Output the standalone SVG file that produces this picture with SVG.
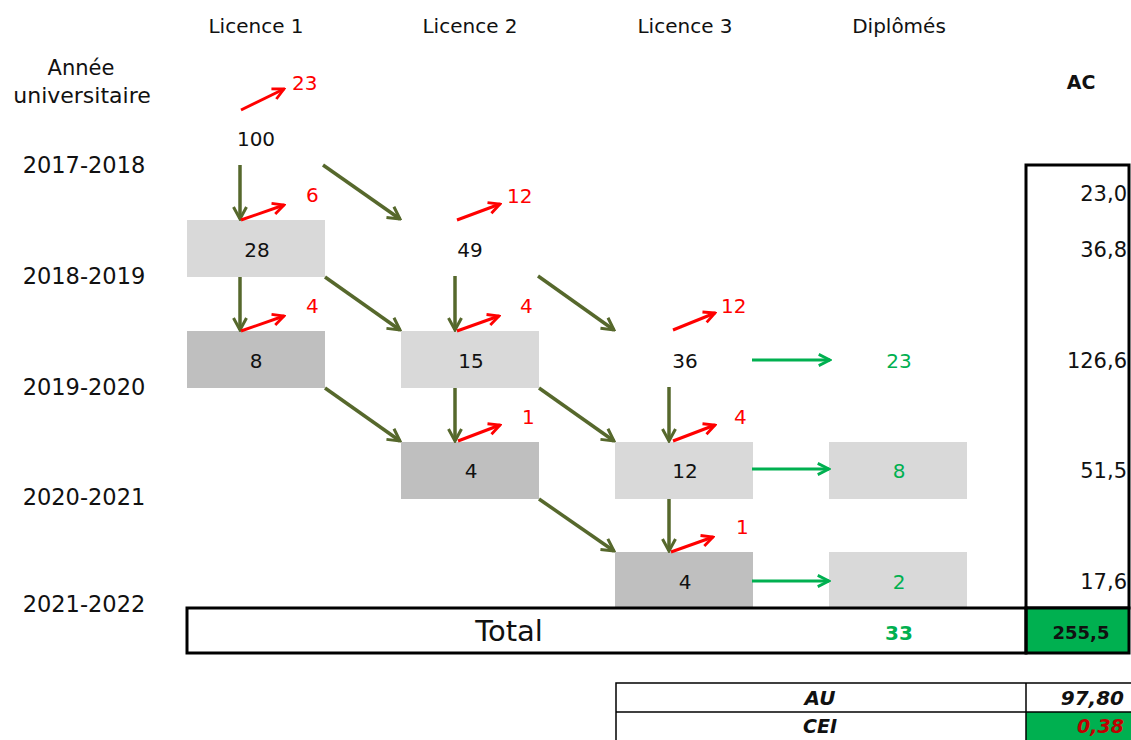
<svg xmlns="http://www.w3.org/2000/svg" width="1131" height="740" viewBox="0 0 1131 740">
<style>
text{font-family:"DejaVu Sans",Verdana,sans-serif;fill:#111}
.h{font-size:20px;text-anchor:middle}
.a{font-size:22px;text-anchor:middle}
.y{font-size:22.5px;text-anchor:middle}
.n{font-size:20px;text-anchor:middle}
.r{font-size:20px;fill:#ff0000}
.g{font-size:20px;text-anchor:middle;fill:#00b050}
.v{font-size:21px;text-anchor:end}
.lg{fill:#d9d9d9}
.dg{fill:#bfbfbf}
.ol{stroke:#56682c;stroke-width:3.5;fill:none;marker-end:url(#ho)}
.rd{stroke:#ff0000;stroke-width:3;fill:none;marker-end:url(#hr)}
.gr{stroke:#00b050;stroke-width:3;fill:none;marker-end:url(#hg)}
.thick{fill:none;stroke:#000;stroke-width:3}
.thin{fill:none;stroke:#000;stroke-width:1.5}
.bi{font-size:20px;font-weight:bold;font-style:italic}
</style>
<defs>
<marker id="ho" markerUnits="userSpaceOnUse" viewBox="0 0 16 16" refX="14" refY="8" markerWidth="16" markerHeight="16" orient="auto"><path d="M2,1.5 L14,8 L2,14.5" fill="none" stroke="#56682c" stroke-width="3"/></marker>
<marker id="hr" markerUnits="userSpaceOnUse" viewBox="0 0 16 16" refX="14" refY="8" markerWidth="15" markerHeight="15" orient="auto"><path d="M2,2 L14,8 L2,14" fill="none" stroke="#ff0000" stroke-width="3"/></marker>
<marker id="hg" markerUnits="userSpaceOnUse" viewBox="0 0 16 16" refX="14" refY="8" markerWidth="15" markerHeight="15" orient="auto"><path d="M2,2 L14,8 L2,14" fill="none" stroke="#00b050" stroke-width="3"/></marker>
</defs>
<rect width="1131" height="740" fill="#fff"/>

<g id="headers">
<text class="h" x="256" y="33">Licence 1</text>
<text class="h" x="470" y="33">Licence 2</text>
<text class="h" x="685" y="33">Licence 3</text>
<text class="h" x="899" y="33">Diplômés</text>
<text class="h" x="81" y="75" style="font-size:21px">Année</text>
<text class="a" x="82" y="103">universitaire</text>
<text x="1081" y="89" style="font-size:19px;font-weight:bold;text-anchor:middle">AC</text>
</g>

<g id="years">
<text class="y" x="84" y="173">2017-2018</text>
<text class="y" x="84" y="284">2018-2019</text>
<text class="y" x="84" y="395">2019-2020</text>
<text class="y" x="84" y="505">2020-2021</text>
<text class="y" x="84" y="612">2021-2022</text>
</g>

<g id="n-l1-2017"><text class="n" x="256" y="146">100</text></g>
<g id="n-l1-2018"><rect class="lg" x="187" y="220" width="138" height="57"/><text class="n" x="257" y="257">28</text></g>
<g id="n-l2-2018"><text class="n" x="470" y="257">49</text></g>
<g id="n-l1-2019"><rect class="dg" x="187" y="331" width="138" height="57"/><text class="n" x="256" y="368">8</text></g>
<g id="n-l2-2019"><rect class="lg" x="401" y="331" width="138" height="57"/><text class="n" x="471" y="368">15</text></g>
<g id="n-l3-2019"><text class="n" x="685" y="368">36</text></g>
<g id="n-d-2019"><text class="g" x="899" y="368">23</text></g>
<g id="n-l2-2020"><rect class="dg" x="401" y="442" width="138" height="57"/><text class="n" x="471" y="478">4</text></g>
<g id="n-l3-2020"><rect class="lg" x="615" y="442" width="138" height="57"/><text class="n" x="685" y="478">12</text></g>
<g id="n-d-2020"><rect class="lg" x="829" y="442" width="138" height="57"/><text class="g" x="899" y="478">8</text></g>
<g id="n-l3-2021"><rect class="dg" x="615" y="552" width="138" height="56"/><text class="n" x="685" y="589">4</text></g>
<g id="n-d-2021"><rect class="lg" x="829" y="552" width="138" height="56"/><text class="g" x="899" y="589">2</text></g>

<g id="dropouts">
<text class="r" x="292" y="90">23</text>
<text class="r" x="306" y="202">6</text>
<text class="r" x="507" y="203">12</text>
<text class="r" x="306" y="313">4</text>
<text class="r" x="520" y="313">4</text>
<text class="r" x="721" y="313">12</text>
<text class="r" x="522" y="424">1</text>
<text class="r" x="734" y="424">4</text>
<text class="r" x="736" y="534">1</text>
</g>

<g id="connectors">
<line class="ol" x1="240" y1="165" x2="240" y2="219"/>
<line class="ol" x1="323" y1="165" x2="400" y2="219"/>
<line class="ol" x1="240" y1="277" x2="240" y2="330"/>
<line class="ol" x1="325" y1="277" x2="400" y2="330"/>
<line class="ol" x1="455" y1="276" x2="455" y2="330"/>
<line class="ol" x1="538" y1="276" x2="614" y2="330"/>
<line class="ol" x1="325" y1="388" x2="400" y2="441"/>
<line class="ol" x1="455" y1="388" x2="455" y2="441"/>
<line class="ol" x1="539" y1="388" x2="614" y2="441"/>
<line class="ol" x1="669" y1="387" x2="669" y2="441"/>
<line class="ol" x1="669" y1="499" x2="669" y2="551"/>
<line class="ol" x1="539" y1="499" x2="614" y2="551"/>
<line class="rd" x1="241" y1="110" x2="284" y2="89"/>
<line class="rd" x1="241" y1="220" x2="284" y2="205"/>
<line class="rd" x1="457" y1="220" x2="500" y2="204"/>
<line class="rd" x1="241" y1="331" x2="284" y2="316"/>
<line class="rd" x1="457" y1="331" x2="499" y2="316"/>
<line class="rd" x1="673" y1="330" x2="715" y2="313"/>
<line class="rd" x1="458" y1="441" x2="500" y2="425"/>
<line class="rd" x1="673" y1="441" x2="715" y2="425"/>
<line class="rd" x1="671" y1="552" x2="713" y2="537"/>
<line class="gr" x1="752" y1="360" x2="830" y2="360"/>
<line class="gr" x1="752" y1="469" x2="829" y2="469"/>
<line class="gr" x1="752" y1="581" x2="829" y2="581"/>
</g>

<g id="ac-column">
<rect class="thick" x="1026" y="165" width="103" height="443"/>
<text class="v" x="1127" y="201">23,0</text>
<text class="v" x="1127" y="257">36,8</text>
<text class="v" x="1127" y="368">126,6</text>
<text class="v" x="1127" y="478">51,5</text>
<text class="v" x="1127" y="589">17,6</text>
</g>

<g id="total">
<rect x="1026" y="608" width="103" height="45" fill="#00b050"/>
<rect class="thick" x="187" y="608" width="839" height="45"/>
<rect class="thick" x="1026" y="608" width="103" height="45"/>
<text x="509" y="641" style="font-size:29px;text-anchor:middle">Total</text>
<text x="899" y="640" style="font-size:20px;font-weight:bold;text-anchor:middle;fill:#00b050">33</text>
<text x="1081" y="639" style="font-size:18px;font-weight:bold;text-anchor:middle">255,5</text>
</g>

<g id="indicators">
<rect x="1026" y="712" width="105" height="28" fill="#00b050"/>
<rect class="thin" x="616" y="683" width="520" height="70"/>
<line class="thin" x1="616" y1="712" x2="1131" y2="712"/>
<line class="thin" x1="1026" y1="683" x2="1026" y2="740"/>
<text class="bi" x="820" y="705" text-anchor="middle">AU</text>
<text class="bi" x="1124" y="705" text-anchor="end">97,80</text>
<text class="bi" x="820" y="733" text-anchor="middle" style="font-size:19px">CEI</text>
<text class="bi" x="1124" y="733" text-anchor="end" style="fill:#c00000;font-size:19px">0,38</text>
</g>
</svg>
